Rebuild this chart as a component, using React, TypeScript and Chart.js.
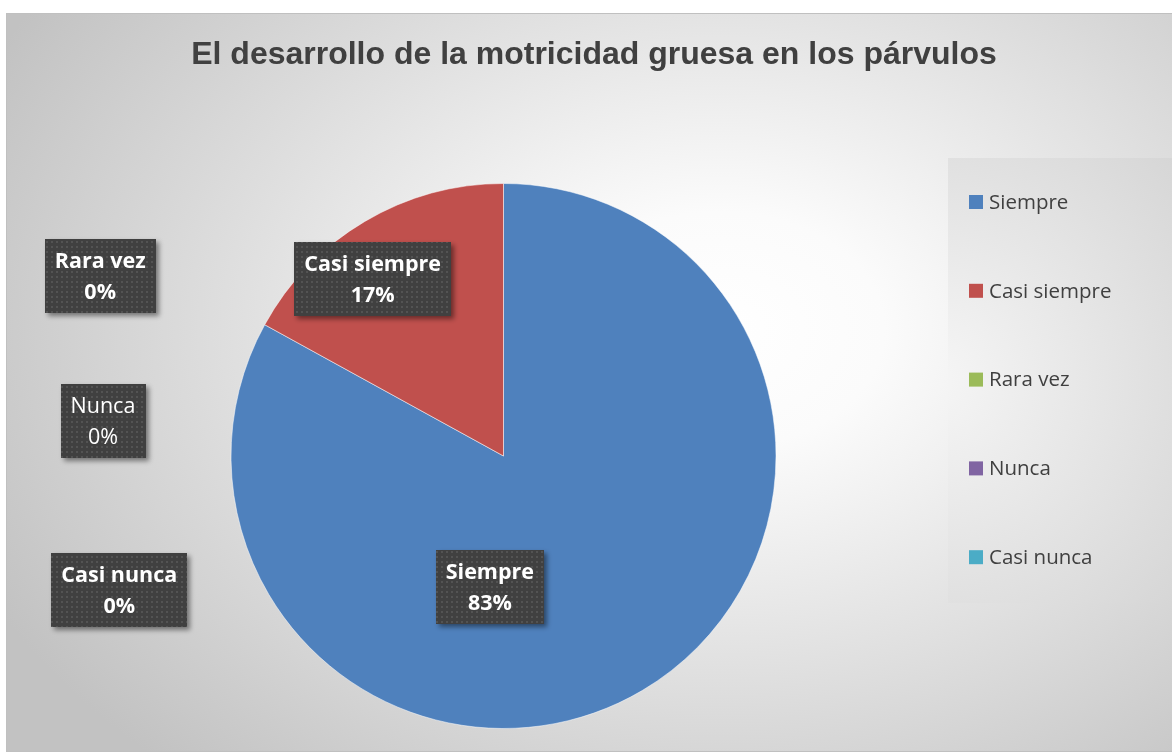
import React, { useEffect, useRef } from "react";
import { Chart, registerables } from "chart.js";

Chart.register(...registerables);

const TITLE = "El desarrollo de la motricidad gruesa en los párvulos";
const categories = ["Siempre", "Casi siempre", "Rara vez", "Nunca", "Casi nunca"];
const percentValues = [83, 17, 0, 0, 0];
const percentLabels = ["83%", "17%", "0%", "0%", "0%"];
const sliceColors = ["#4F81BD", "#C0504D", "#9BBB59", "#8064A2", "#4BACC6"];
// label anchors in units of the pie radius, relative to the pie centre
const labelAnchors = [
  [-0.05, 0.48],
  [-0.48, -0.65],
  [-1.48, -0.66],
  [-1.47, -0.13],
  [-1.41, 0.49],
];
const labelBold = [true, true, true, false, true];

const W = 1172;
const H = 753;

function makePattern(ctx: CanvasRenderingContext2D) {
  const c = document.createElement("canvas");
  c.width = 5;
  c.height = 5;
  const p = c.getContext("2d")!;
  p.fillStyle = "#404040";
  p.fillRect(0, 0, 5, 5);
  p.fillStyle = "#535353";
  p.fillRect(1, 1, 2, 2);
  return ctx.createPattern(c, "repeat");
}

const backgroundPlugin = {
  id: "bgFrame",
  beforeDraw(chart: any) {
    const ctx: CanvasRenderingContext2D = chart.ctx;
    ctx.save();
    ctx.fillStyle = "#ffffff";
    ctx.fillRect(0, 0, W, H);
    // frame gradient
    const fx = 6, fy = 13, fw = W - 6, fh = 752 - 13;
    ctx.save();
    ctx.beginPath();
    ctx.rect(fx, fy, fw, fh);
    ctx.clip();
    ctx.translate(720, 330);
    ctx.scale(1, 0.72);
    const g = ctx.createRadialGradient(0, 0, 0, 0, 0, 820);
    g.addColorStop(0, "#ffffff");
    g.addColorStop(0.2, "#fbfbfb");
    g.addColorStop(1, "#c2c2c2");
    ctx.fillStyle = g;
    ctx.fillRect(-1000, -1000, 2400, 2400);
    ctx.restore();
    ctx.strokeStyle = "#c0c0c0";
    ctx.lineWidth = 1;
    ctx.strokeRect(fx + 0.5, fy + 0.5, fw, fh - 1);

    // title
    ctx.fillStyle = "#404040";
    ctx.font = "bold 32px 'Liberation Sans', Arial, sans-serif";
    ctx.textAlign = "center";
    ctx.textBaseline = "alphabetic";
    ctx.fillText(TITLE, 594, 64);

    // legend box
    const lx = 948, ly = 158, lw = W - 948, lh = 603 - 158;
    ctx.save();
    ctx.beginPath();
    ctx.rect(lx, ly, lw, lh);
    ctx.clip();
    const lg = ctx.createRadialGradient(930, 380, 0, 930, 380, 330);
    lg.addColorStop(0, "#f6f6f6");
    lg.addColorStop(1, "#d6d6d6");
    ctx.fillStyle = lg;
    ctx.fillRect(lx, ly, lw, lh);
    ctx.restore();

    ctx.font = "20.5px 'Open Sans', sans-serif";
    ctx.textAlign = "left";
    ctx.textBaseline = "middle";
    const labels = chart.data.labels as string[];
    const colors = chart.data.datasets[0].backgroundColor as string[];
    labels.forEach((lab: string, i: number) => {
      const cy = 202 + i * 88.8;
      ctx.fillStyle = colors[i];
      ctx.fillRect(969, cy - 7, 14, 14);
      ctx.fillStyle = "#404040";
      ctx.fillText(lab, 989, cy + 1);
    });
    ctx.restore();
  },
};

const dataLabelPlugin = {
  id: "boxLabels",
  afterDraw(chart: any) {
    const ctx: CanvasRenderingContext2D = chart.ctx;
    const meta = chart.getDatasetMeta(0);
    const arc = meta.data[0];
    const cx = arc.x, cy = arc.y, r = arc.outerRadius;
    const pattern = makePattern(ctx);
    const labels = chart.data.labels as string[];
    ctx.save();
    labels.forEach((lab: string, i: number) => {
      const [ax, ay] = labelAnchors[i];
      const x = cx + ax * r;
      const y = cy + ay * r;
      const pct = percentLabels[i];
      ctx.font = (labelBold[i] ? "bold " : "") + "21.5px 'Open Sans', sans-serif";
      const tw = Math.max(ctx.measureText(lab).width, ctx.measureText(pct).width);
      const bw = tw + 20;
      const bh = 74;
      ctx.save();
      ctx.shadowColor = "rgba(0,0,0,0.45)";
      ctx.shadowBlur = 5;
      ctx.shadowOffsetX = 3;
      ctx.shadowOffsetY = 3;
      ctx.fillStyle = pattern || "#404040";
      ctx.fillRect(Math.round(x - bw / 2), Math.round(y - bh / 2), Math.round(bw), bh);
      ctx.restore();
      ctx.fillStyle = "#ffffff";
      ctx.textAlign = "center";
      ctx.textBaseline = "middle";
      ctx.fillText(lab, x, y - 14);
      ctx.fillText(pct, x, y + 17);
    });
    ctx.restore();
  },
};

export default function App() {
  const ref = useRef<HTMLCanvasElement>(null);
  useEffect(() => {
    if (!ref.current) return;
    const chart = new Chart(ref.current, {
      type: "pie",
      data: {
        labels: categories,
        datasets: [
          {
            data: percentValues,
            backgroundColor: sliceColors,
            borderColor: "rgba(255,255,255,0.5)",
            borderWidth: 1,
          },
        ],
      },
      options: {
        responsive: false,
        animation: false,
        devicePixelRatio: 1,
        layout: { padding: { left: 230, right: 395, top: 183, bottom: 24 } },
        plugins: {
          legend: { display: false },
          tooltip: { enabled: false },
          title: { display: false },
        },
      },
      plugins: [backgroundPlugin, dataLabelPlugin],
    } as any);
    return () => chart.destroy();
  }, []);
  return (
    <div style={{ position: "absolute", left: 0, top: 0, width: W, height: H }}>
      <canvas ref={ref} width={W} height={H} style={{ display: "block" }} />
    </div>
  );
}
